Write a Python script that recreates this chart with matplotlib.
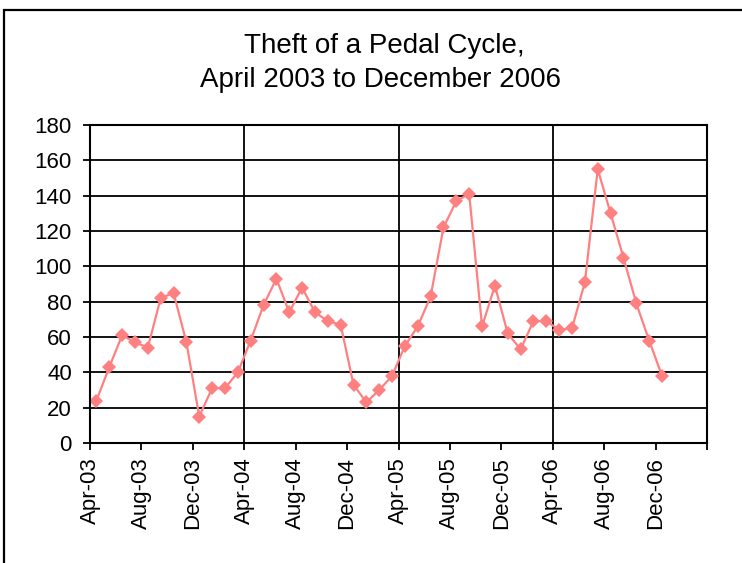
import pandas as pd
import matplotlib.pyplot as plt
from matplotlib.patches import Rectangle

plt.rcParams['font.family'] = ['Liberation Sans', 'DejaVu Sans']

# monthly counts, Apr 2003 .. Dec 2006
months = pd.date_range("2003-04-01", "2006-12-01", freq="MS")
thefts = [24, 43, 61, 57, 54, 82, 85, 57, 15, 31, 31, 40,
          58, 78, 93, 74, 88, 74, 69, 67, 33, 23, 30, 38,
          55, 66, 83, 122, 137, 141, 66, 89, 62, 53, 69, 69,
          64, 65, 91, 155, 130, 105, 79, 58, 38]

tick_labels = [d.strftime("%b-%y") for d in months[::4]] + [""]
year_lines = [12, 24, 36]

fig = plt.figure(figsize=(7.42, 5.63), dpi=100)
ax = fig.add_axes([90 / 742, 1 - 443 / 563, (707 - 90) / 742, (443 - 125) / 563])

x = [i + 0.5 for i in range(len(thefts))]
ax.plot(x, thefts, color="#ff8080", lw=1.6, marker="D", ms=7.6, mew=0)

ax.set_xlim(0, 48)
ax.set_ylim(0, 180)
ax.set_yticks(range(0, 181, 20))
ax.set_xticks(range(0, 49, 4))
ax.set_xticklabels(tick_labels, rotation=90)
ax.xaxis.remove_overlapping_locs = False
ax.set_xticks(year_lines, minor=True)
ax.tick_params(axis="x", which="minor", length=0)
ax.tick_params(which="major", direction="out", length=5, width=1.3, labelsize=16)
ax.tick_params(axis="y", pad=8)
ax.tick_params(axis="x", pad=5)

ax.grid(axis="y", color="black", lw=1.3)
ax.grid(axis="x", which="minor", color="black", lw=1.3)
ax.set_axisbelow(True)
for s in ax.spines.values():
    s.set_linewidth(1.5)

fig.text(384 / 742, 1 - 46 / 563, "Theft of a Pedal Cycle,", ha="center", va="center", fontsize=20)
fig.text(380 / 742, 1 - 80 / 563, "April 2003 to December 2006", ha="center", va="center", fontsize=20)

fig.patches.append(Rectangle((4 / 742, -0.1), 1.2, 1.1 - 10 / 563, transform=fig.transFigure,
                             fill=False, edgecolor="black", lw=1.6))

fig.savefig("out.png")
